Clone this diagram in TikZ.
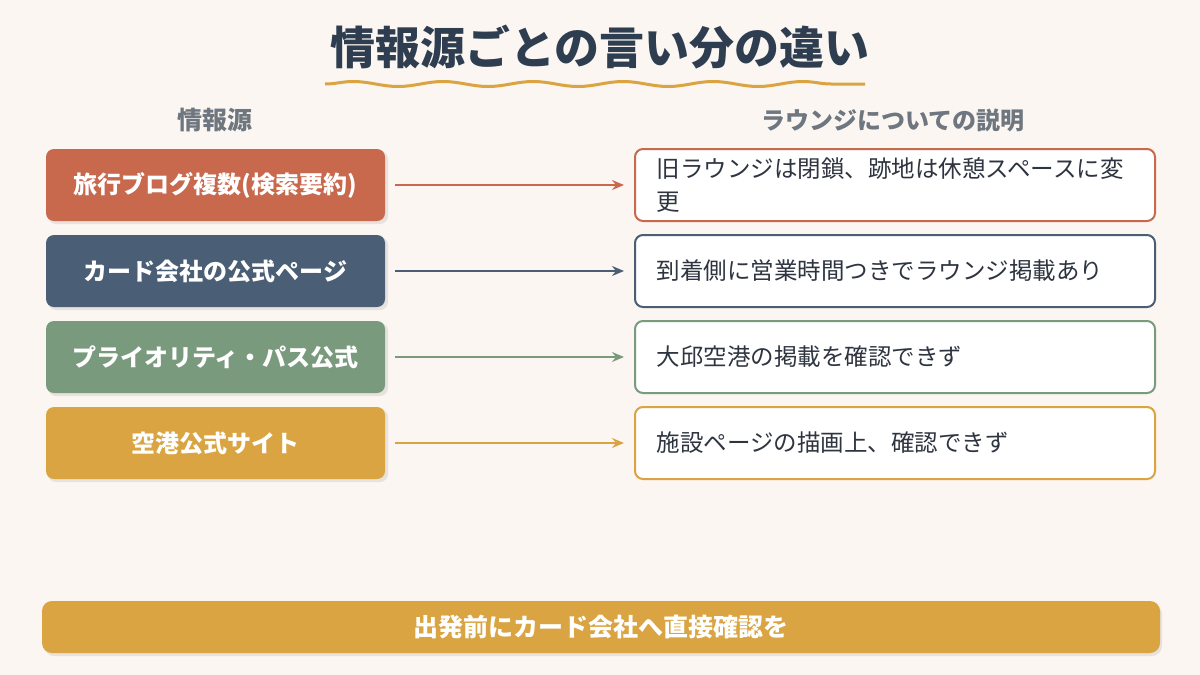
\documentclass[tikz,border=0pt]{standalone}
\usepackage{fontspec}
\setmainfont{Noto Sans CJK JP}
\usetikzlibrary{decorations.pathmorphing,arrows.meta}
\definecolor{bg}{HTML}{FBF6F1}
\definecolor{cA}{HTML}{C8694E}
\definecolor{cB}{HTML}{4A5E75}
\definecolor{cC}{HTML}{7A9A7E}
\definecolor{cD}{HTML}{D9A441}
\definecolor{ttl}{HTML}{2E3E50}
\definecolor{hd}{HTML}{6E7780}
\definecolor{tx}{HTML}{2E3440}
\begin{document}
\begin{tikzpicture}[x=1pt,y=-1pt,
  src/.style={rounded corners=8pt,minimum width=339pt,minimum height=72pt,text=white,font=\fontsize{24}{30}\selectfont\bfseries,inner sep=0pt},
  dst/.style={rounded corners=8pt,minimum width=520pt,minimum height=72pt,fill=white,line width=2pt,text=tx,inner sep=0pt},
  arr/.style={line width=1.5pt,-{Stealth[length=12pt,width=10pt]}}]
\useasboundingbox (0,0) rectangle (1200,675);
\fill[bg] (0,0) rectangle (1200,675);
\node[text=ttl,font=\fontsize{45}{50}\selectfont\bfseries] (title) at (600,47) {情報源ごとの言い分の違い};
\draw[cD,line width=3pt,decorate,decoration={snake,amplitude=2.5pt,segment length=90pt}] (325,84) -- (865,84);
\node[text=hd,font=\fontsize{25}{30}\selectfont\bfseries] (h1) at (215,120) {情報源};
\node[text=hd,font=\fontsize{24}{30}\selectfont\bfseries] (h2) at (893,120) {ラウンジについての説明};
\foreach \i/\y/\c/\s/\d in {1/185/cA/{旅行ブログ複数(検索要約)}/{旧ラウンジは閉鎖、跡地は休憩スペースに変\\更},
  2/271/cB/{カード会社の公式ページ}/{到着側に営業時間つきでラウンジ掲載あり},
  3/357/cC/{プライオリティ・パス公式}/{大邱空港の掲載を確認できず},
  4/443/cD/{空港公式サイト}/{施設ページの描画上、確認できず}}{
  \fill[black,opacity=0.08,rounded corners=8pt] (48,\y-34) rectangle (388,\y+39);
  \node[src,fill=\c] (s\i) at (215.5,\y) {\s};
  \node[dst,draw=\c] (d\i) at (895,\y) {};
  \node[anchor=west,text=tx,font=\fontsize{23.5}{33}\selectfont,align=left] (t\i) at (653,\y) {\d};
  \draw[arr,\c] ([xshift=10pt]s\i.east) -- ([xshift=-10pt]d\i.west);
}
\fill[black,opacity=0.08,rounded corners=10pt] (44,604) rectangle (1162,656);
\node[fill=cD,rounded corners=10pt,minimum width=1118pt,minimum height=52pt,text=white,font=\fontsize{25}{30}\selectfont\bfseries] (bar) at (601,627) {出発前にカード会社へ直接確認を};
\end{tikzpicture}
\end{document}
